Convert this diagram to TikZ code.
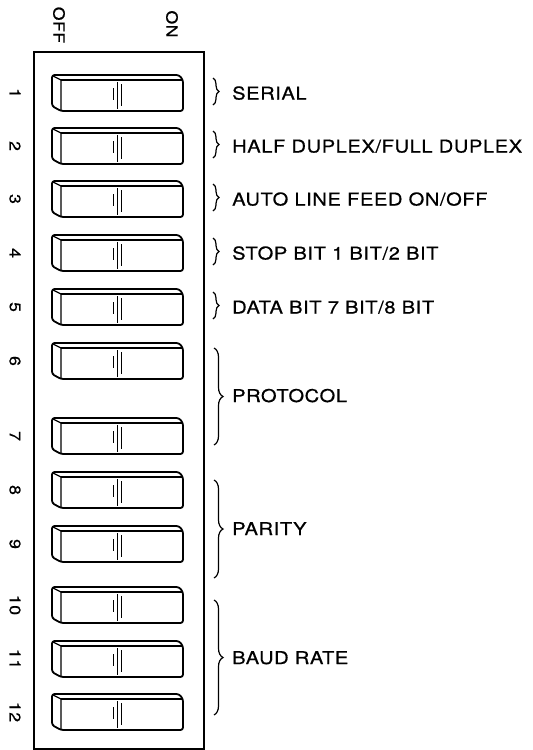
\documentclass[tikz,border=0pt]{standalone}
\usepackage{fontspec}
\setsansfont{TeX Gyre Heros}[FakeStretch=1.14,LetterSpace=3.5,FakeBold=0.6]
\usetikzlibrary{decorations.pathreplacing}
\tikzset{
  swout/.style={line width=1.8pt, line join=round, rounded corners=2.5pt},
  swin/.style={line width=1.2pt},
  swmark/.style={line width=0.8pt},
  dipswitch/.pic={
    \draw[swout] (0,0) -- (127,0) -- (131,5) -- (131,36) -- (9,36) -- (0,31) -- cycle;
    \draw[swin] (1,1) -- (9,5) -- (9,35);
    \draw[swin] (9,5) -- (130,5);
    \draw[swmark] (61,13) -- (61,25);
    \draw[swmark] (65,7) -- (65,34);
    \draw[swmark] (69,9) -- (69,31);
  },
  num/.style={rotate=-90, font=\sffamily\fontsize{15.5}{18}\selectfont, inner sep=0pt},
  lbl/.style={anchor=base west, font=\sffamily\fontsize{17.6}{21}\selectfont, inner sep=0pt},
  brc/.style={decorate, decoration={brace, amplitude=#1}, line width=1.2pt},
  brc/.default=6,
  frame/.style={line width=1.9pt}
}
\begin{document}
\begin{tikzpicture}[x=1pt,y=-1pt]
\useasboundingbox (0,0) rectangle (533,750);
\node[frame, draw, minimum width=170pt, minimum height=697pt, anchor=north west, inner sep=0pt] (box) at (33,51) {};
\node[num] (off) at (59,25) {OFF};
\node[num] (on) at (172,24) {ON};
\foreach \n/\t in {1/75,2/128,3/181,4/235,5/289,6/343,7/418,8/472,9/526,10/587,11/641,12/694}{
  \pic (sw\n) at (52,\t) {dipswitch};
  \node[num] (n\n) at (15,\t+18) {\n};
}
% single braces
\foreach \c/\txt in {93/{SERIAL},146/{HALF DUPLEX/FULL DUPLEX},199/{AUTO LINE FEED ON/OFF},253/{STOP BIT 1 BIT/2 BIT},307/{DATA BIT 7 BIT/8 BIT}}{
  \coordinate (bt\c) at (213,\c-15);
  \coordinate (bb\c) at (213,\c+12);
  \draw[brc] (bt\c) -- (bb\c);
  \node[lbl] (l\c) at (232,\c+6.5) {\txt};
}
\coordinate (pt) at (214,348); \coordinate (pb) at (214,445);
\draw[brc=9] (pt) -- (pb);
\node[lbl] (proto) at (232,402) {PROTOCOL};
\coordinate (qt) at (214,480); \coordinate (qb) at (214,578);
\draw[brc=9] (qt) -- (qb);
\node[lbl] (parity) at (232,535) {PARITY};
\coordinate (rt) at (214,600); \coordinate (rb) at (214,715);
\draw[brc=9] (rt) -- (rb);
\node[lbl] (baud) at (232,664) {BAUD RATE};
\end{tikzpicture}
\end{document}
